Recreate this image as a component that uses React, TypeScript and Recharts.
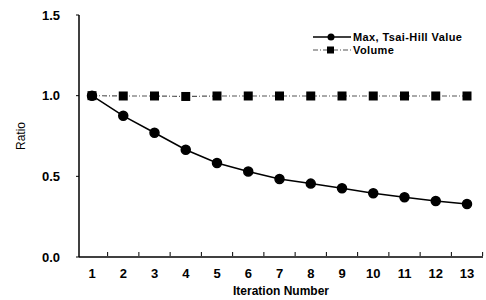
import { LineChart, Line, XAxis, YAxis, Label } from 'recharts';

const iterations = ['1', '2', '3', '4', '5', '6', '7', '8', '9', '10', '11', '12', '13'];
const maxTsaiHill = [1.0, 0.875, 0.77, 0.665, 0.583, 0.53, 0.484, 0.455, 0.426, 0.395, 0.37, 0.347, 0.329];
const volume = [1.0, 0.998, 0.998, 0.995, 0.998, 0.998, 0.998, 0.998, 0.998, 0.998, 0.998, 0.998, 0.998];
const yTicks = [0, 0.5, 1.0, 1.5];

const data = iterations.map((it, i) => ({
    it,
    max: maxTsaiHill[i],
    vol: volume[i],
}));

const FONT = 'Liberation Sans, Arial, sans-serif';
const STEP = 31.25;

const XTick = (props: any) => {
    const { x, y, payload } = props;
    return (
        <g>
            <line x1={x + STEP / 2} x2={x + STEP / 2} y1={y - 9} y2={y - 13} stroke="#000" />
            <text x={x} y={y + 13} textAnchor="middle" fontFamily={FONT} fontWeight="bold" fontSize={13} fill="#000">
                {payload.value}
            </text>
        </g>
    );
};

const SquareDot = (props: any) => {
    const { cx, cy } = props;
    if (cx == null || cy == null) return null;
    return <rect x={cx - 4.5} y={cy - 4.5} width={9} height={9} fill="#000" />;
};

const LegendBox = () => (
    <svg width={180} height={36} style={{ position: 'absolute', left: 311, top: 29, overflow: 'visible' }}>
        <line x1={2} x2={40} y1={8} y2={8} stroke="#000" strokeWidth={1.5} />
        <circle cx={20} cy={8} r={3.5} fill="#000" />
        <text x={42} y={12} fontFamily={FONT} fontWeight="bold" fontSize={11} letterSpacing={0.4} fill="#000">
            Max, Tsai-Hill Value
        </text>
        <line x1={2} x2={40} y1={21} y2={21} stroke="#555" strokeWidth={1.2} strokeDasharray="5 2 1 2" />
        <rect x={16} y={17.5} width={7} height={7} fill="#000" />
        <text x={42} y={25} fontFamily={FONT} fontWeight="bold" fontSize={11} letterSpacing={0.4} fill="#000">
            Volume
        </text>
    </svg>
);

export default function App() {
    return (
        <div style={{ position: 'absolute', left: 0, top: 0, width: 486, height: 300, background: '#fff' }}>
            <LineChart width={486} height={300} data={data} margin={{ top: 15, right: 3, bottom: 13, left: 0 }}>
                <XAxis
                    dataKey="it"
                    height={30}
                    axisLine={{ stroke: '#000', strokeWidth: 1.5 }}
                    tickLine={false}
                    tick={<XTick />}
                    interval={0}
                    padding={{ left: 13, right: 16 }}
                >
                    <Label
                        value="Iteration Number"
                        position="bottom"
                        offset={-1}
                        style={{ fontFamily: FONT, fontWeight: 'bold', fontSize: 12, fill: '#000' }}
                    />
                </XAxis>
                <YAxis
                    type="number"
                    domain={[0, 1.5]}
                    ticks={yTicks}
                    width={79}
                    axisLine={{ stroke: '#000', strokeWidth: 1.5 }}
                    tickLine={{ stroke: '#000' }}
                    tickSize={3}
                    tickMargin={16}
                    tickFormatter={(v: number) => v.toFixed(1)}
                    tick={{ fontFamily: FONT, fontWeight: 'bold', fontSize: 13, fill: '#000' }}
                >
                    <Label
                        value="Ratio"
                        angle={-90}
                        position="insideLeft"
                        offset={21}
                        style={{ fontFamily: FONT, fontSize: 12, fill: '#000', textAnchor: 'middle' }}
                    />
                </YAxis>
                <Line
                    dataKey="vol"
                    name="Volume"
                    stroke="#555"
                    strokeWidth={1.2}
                    strokeDasharray="5 2 1 2"
                    dot={<SquareDot />}
                    isAnimationActive={false}
                />
                <Line
                    dataKey="max"
                    name="Max, Tsai-Hill Value"
                    stroke="#000"
                    strokeWidth={1.5}
                    dot={{ r: 4.5, fill: '#000', stroke: '#000' }}
                    isAnimationActive={false}
                />
            </LineChart>
            <LegendBox />
        </div>
    );
}
